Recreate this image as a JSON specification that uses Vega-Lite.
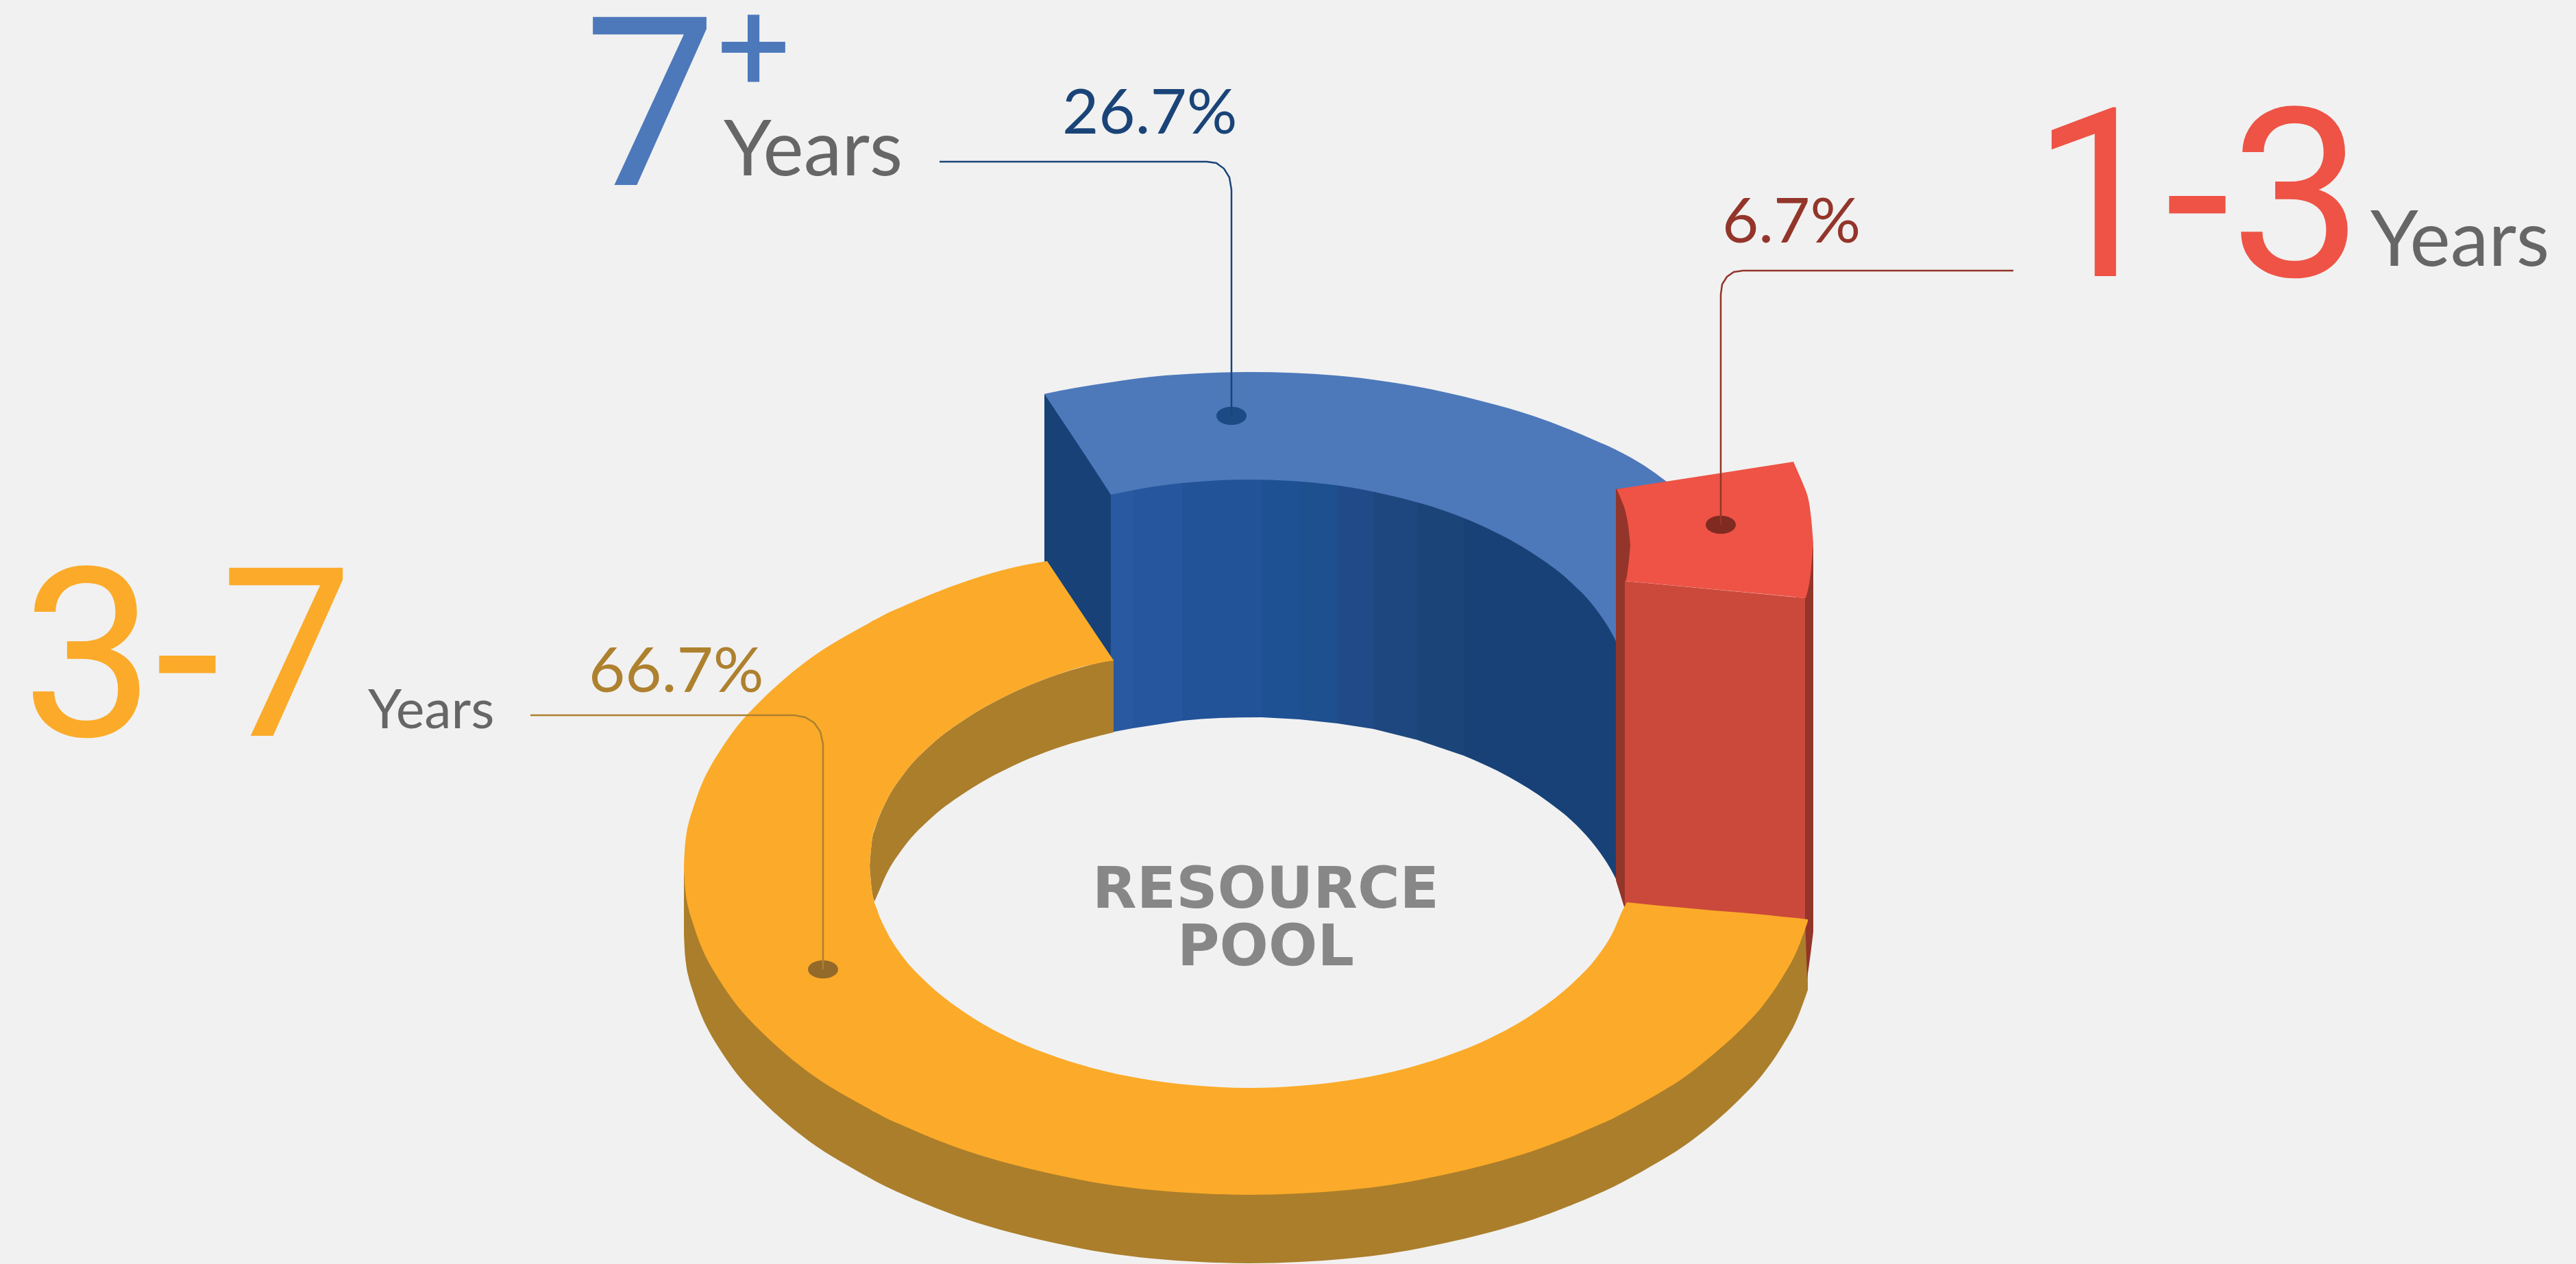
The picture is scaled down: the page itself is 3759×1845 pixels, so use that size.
{"$schema":"https://vega.github.io/schema/vega-lite/v6.json","width":3759,"height":1845,"autosize":{"type":"none"},"padding":0,"background":"#f1f1f1","config":{"view":{"stroke":null}},
"datasets":{
"faces":[
{"part":"a","face":"3-7 outer side","x":998,"y":1259,"y2":1364},{"part":"a","face":"3-7 outer side","x":999,"y":1280,"y2":1385},{"part":"a","face":"3-7 outer side","x":1001,"y":1301,"y2":1406},{"part":"a","face":"3-7 outer side","x":1005,"y":1322,"y2":1427},{"part":"a","face":"3-7 outer side","x":1011,"y":1342,"y2":1447},{"part":"a","face":"3-7 outer side","x":1018,"y":1363,"y2":1468},{"part":"a","face":"3-7 outer side","x":1026,"y":1383,"y2":1488},{"part":"a","face":"3-7 outer side","x":1036,"y":1403,"y2":1508},{"part":"a","face":"3-7 outer side","x":1048,"y":1423,"y2":1528},{"part":"a","face":"3-7 outer side","x":1075,"y":1462,"y2":1567},{"part":"a","face":"3-7 outer side","x":1109,"y":1499,"y2":1604},{"part":"a","face":"3-7 outer side","x":1147,"y":1534,"y2":1639},{"part":"a","face":"3-7 outer side","x":1191,"y":1568,"y2":1673},{"part":"a","face":"3-7 outer side","x":1240,"y":1598,"y2":1703},{"part":"a","face":"3-7 outer side","x":1293,"y":1627,"y2":1732},{"part":"a","face":"3-7 outer side","x":1350,"y":1652,"y2":1757},{"part":"a","face":"3-7 outer side","x":1411,"y":1675,"y2":1780},{"part":"a","face":"3-7 outer side","x":1475,"y":1694,"y2":1799},{"part":"a","face":"3-7 outer side","x":1542,"y":1710,"y2":1815},{"part":"a","face":"3-7 outer side","x":1610,"y":1723,"y2":1828},{"part":"a","face":"3-7 outer side","x":1681,"y":1732,"y2":1837},{"part":"a","face":"3-7 outer side","x":1752,"y":1737,"y2":1842},{"part":"a","face":"3-7 outer side","x":1824,"y":1739,"y2":1844},{"part":"a","face":"3-7 outer side","x":1896,"y":1737,"y2":1842},{"part":"a","face":"3-7 outer side","x":1967,"y":1732,"y2":1837},{"part":"a","face":"3-7 outer side","x":2038,"y":1723,"y2":1828},{"part":"a","face":"3-7 outer side","x":2106,"y":1710,"y2":1815},{"part":"a","face":"3-7 outer side","x":2173,"y":1694,"y2":1799},{"part":"a","face":"3-7 outer side","x":2237,"y":1675,"y2":1780},{"part":"a","face":"3-7 outer side","x":2298,"y":1652,"y2":1757},{"part":"a","face":"3-7 outer side","x":2355,"y":1627,"y2":1732},{"part":"a","face":"3-7 outer side","x":2408,"y":1598,"y2":1703},{"part":"a","face":"3-7 outer side","x":2457,"y":1568,"y2":1673},{"part":"a","face":"3-7 outer side","x":2501,"y":1534,"y2":1639},{"part":"a","face":"3-7 outer side","x":2539,"y":1499,"y2":1604},{"part":"a","face":"3-7 outer side","x":2573,"y":1462,"y2":1567},{"part":"a","face":"3-7 outer side","x":2600,"y":1423,"y2":1528},{"part":"a","face":"3-7 outer side","x":2622,"y":1383,"y2":1488},{"part":"a","face":"3-7 outer side","x":2638,"y":1340,"y2":1445},
{"part":"b","face":"7+ cut side","x":1524,"y":575,"y2":825},{"part":"b","face":"7+ cut side","x":1625,"y":700,"y2":1000},
{"part":"c1","face":"7+ wall 1","x":1621,"y":712,"y2":1069},{"part":"c1","face":"7+ wall 1","x":1653,"y":706,"y2":1063},
{"part":"c2","face":"7+ wall 2","x":1653,"y":706,"y2":1063},{"part":"c2","face":"7+ wall 2","x":1725,"y":695,"y2":1052},
{"part":"c3","face":"7+ wall 3","x":1725,"y":695,"y2":1052},{"part":"c3","face":"7+ wall 3","x":1780,"y":691,"y2":1048},{"part":"c3","face":"7+ wall 3","x":1841,"y":690,"y2":1047},
{"part":"c4","face":"7+ wall 4","x":1841,"y":690,"y2":1047},{"part":"c4","face":"7+ wall 4","x":1896,"y":693,"y2":1050},
{"part":"c5","face":"7+ wall 5","x":1896,"y":693,"y2":1050},{"part":"c5","face":"7+ wall 5","x":1952,"y":699,"y2":1056},
{"part":"c6","face":"7+ wall 6","x":1952,"y":699,"y2":1056},{"part":"c6","face":"7+ wall 6","x":2004,"y":707,"y2":1064},
{"part":"c7","face":"7+ wall 7","x":2004,"y":707,"y2":1064},{"part":"c7","face":"7+ wall 7","x":2068,"y":723,"y2":1080},
{"part":"c8","face":"7+ wall 8","x":2068,"y":723,"y2":1080},{"part":"c8","face":"7+ wall 8","x":2136,"y":746,"y2":1103},
{"part":"c9","face":"7+ wall 9","x":2136,"y":746,"y2":1103},{"part":"c9","face":"7+ wall 9","x":2200,"y":776,"y2":1133},{"part":"c9","face":"7+ wall 9","x":2260,"y":814,"y2":1171},{"part":"c9","face":"7+ wall 9","x":2300,"y":847,"y2":1204},{"part":"c9","face":"7+ wall 9","x":2330,"y":881,"y2":1238},{"part":"c9","face":"7+ wall 9","x":2350,"y":911,"y2":1268},{"part":"c9","face":"7+ wall 9","x":2359,"y":928,"y2":1285},
{"part":"d1","face":"7+ top","x":1524,"y":575,"y2":575},{"part":"d1","face":"7+ top","x":1570,"y":566,"y2":644},{"part":"d1","face":"7+ top","x":1621,"y":558,"y2":722},
{"part":"d2","face":"7+ top","x":1621,"y":558,"y2":722},{"part":"d2","face":"7+ top","x":1700,"y":548,"y2":708},{"part":"d2","face":"7+ top","x":1824,"y":543,"y2":700},{"part":"d2","face":"7+ top","x":1948,"y":548,"y2":708},{"part":"d2","face":"7+ top","x":2023,"y":557,"y2":722},{"part":"d2","face":"7+ top","x":2106,"y":572,"y2":745},{"part":"d2","face":"7+ top","x":2168,"y":587,"y2":770},{"part":"d2","face":"7+ top","x":2237,"y":607,"y2":808},{"part":"d2","face":"7+ top","x":2288,"y":626,"y2":846},{"part":"d2","face":"7+ top","x":2328,"y":643,"y2":888},{"part":"d2","face":"7+ top","x":2355,"y":655,"y2":930},{"part":"d2","face":"7+ top","x":2359,"y":657,"y2":938},
{"part":"d3","face":"7+ top","x":2359,"y":657,"y2":760},{"part":"d3","face":"7+ top","x":2400,"y":680,"y2":760},{"part":"d3","face":"7+ top","x":2432,"y":703,"y2":760},
{"part":"e","face":"1-3 left side","x":2358,"y":714,"y2":1285},{"part":"e","face":"1-3 left side","x":2372,"y":712,"y2":1330},
{"part":"f","face":"1-3 front","x":2371,"y":848,"y2":1320},{"part":"f","face":"1-3 front","x":2634,"y":873,"y2":1342},
{"part":"g","face":"1-3 right side","x":2634,"y":860,"y2":1340},{"part":"g","face":"1-3 right side","x":2637,"y":850,"y2":1428},
{"part":"g2","face":"1-3 right side","x":2637,"y":850,"y2":1428},{"part":"g2","face":"1-3 right side","x":2643,"y":815,"y2":1385},{"part":"g2","face":"1-3 right side","x":2646,"y":793,"y2":1360},
{"part":"h1","face":"1-3 top","x":2359,"y":714,"y2":714},{"part":"h1","face":"1-3 top","x":2372,"y":712,"y2":848},
{"part":"h2","face":"1-3 top","x":2372,"y":712,"y2":848},{"part":"h2","face":"1-3 top","x":2617,"y":674,"y2":871},
{"part":"h3","face":"1-3 top","x":2617,"y":674,"y2":871},{"part":"h3","face":"1-3 top","x":2633,"y":711,"y2":873},{"part":"h3","face":"1-3 top","x":2635,"y":716,"y2":873},
{"part":"h4","face":"1-3 top","x":2635,"y":716,"y2":873},{"part":"h4","face":"1-3 top","x":2643,"y":757,"y2":829},{"part":"h4","face":"1-3 top","x":2646,"y":793,"y2":793},
{"part":"i","face":"1-3 left lobe","x":2359,"y":714,"y2":850},{"part":"i","face":"1-3 left lobe","x":2366,"y":730,"y2":850},{"part":"i","face":"1-3 left lobe","x":2372,"y":747,"y2":848},{"part":"i","face":"1-3 left lobe","x":2376,"y":768,"y2":826},{"part":"i","face":"1-3 left lobe","x":2379,"y":796,"y2":796},
{"part":"j1","face":"3-7 inner wall","x":1269,"y":1264,"y2":1264},{"part":"j1","face":"3-7 inner wall","x":1272,"y":1230,"y2":1298},{"part":"j1","face":"3-7 inner wall","x":1276,"y":1212,"y2":1316},
{"part":"j2","face":"3-7 inner wall","x":1276,"y":1212,"y2":1316},{"part":"j2","face":"3-7 inner wall","x":1280,"y":1200,"y2":1307},{"part":"j2","face":"3-7 inner wall","x":1293,"y":1170,"y2":1277},{"part":"j2","face":"3-7 inner wall","x":1320,"y":1128,"y2":1235},{"part":"j2","face":"3-7 inner wall","x":1360,"y":1086,"y2":1193},{"part":"j2","face":"3-7 inner wall","x":1411,"y":1048,"y2":1155},{"part":"j2","face":"3-7 inner wall","x":1480,"y":1010,"y2":1117},{"part":"j2","face":"3-7 inner wall","x":1542,"y":985,"y2":1092},{"part":"j2","face":"3-7 inner wall","x":1625,"y":962,"y2":1069},
{"part":"k","face":"3-7 top","x":998,"y":1264,"y2":1264},{"part":"k","face":"3-7 top","x":999,"y":1243,"y2":1285},{"part":"k","face":"3-7 top","x":1001,"y":1222,"y2":1306},{"part":"k","face":"3-7 top","x":1005,"y":1201,"y2":1327},{"part":"k","face":"3-7 top","x":1011,"y":1181,"y2":1347},{"part":"k","face":"3-7 top","x":1018,"y":1160,"y2":1368},{"part":"k","face":"3-7 top","x":1026,"y":1140,"y2":1388},{"part":"k","face":"3-7 top","x":1036,"y":1120,"y2":1408},{"part":"k","face":"3-7 top","x":1048,"y":1100,"y2":1428},{"part":"k","face":"3-7 top","x":1075,"y":1061,"y2":1467},{"part":"k","face":"3-7 top","x":1109,"y":1024,"y2":1504},{"part":"k","face":"3-7 top","x":1147,"y":989,"y2":1539},{"part":"k","face":"3-7 top","x":1191,"y":955,"y2":1573},{"part":"k","face":"3-7 top","x":1240,"y":925,"y2":1603},{"part":"k","face":"3-7 top","x":1269,"y":909,"y2":1619},
{"part":"l1","face":"3-7 top","x":1269,"y":909,"y2":1264},{"part":"l1","face":"3-7 top","x":1272,"y":907,"y2":1230},{"part":"l1","face":"3-7 top","x":1280,"y":903,"y2":1200},{"part":"l1","face":"3-7 top","x":1293,"y":896,"y2":1170},{"part":"l1","face":"3-7 top","x":1320,"y":884,"y2":1128},{"part":"l1","face":"3-7 top","x":1360,"y":867,"y2":1086},{"part":"l1","face":"3-7 top","x":1411,"y":848,"y2":1048},{"part":"l1","face":"3-7 top","x":1480,"y":828,"y2":1010},{"part":"l1","face":"3-7 top","x":1528,"y":819,"y2":990},
{"part":"l2","face":"3-7 top","x":1528,"y":819,"y2":990},{"part":"l2","face":"3-7 top","x":1576,"y":891,"y2":974},{"part":"l2","face":"3-7 top","x":1625,"y":964,"y2":964},
{"part":"m1","face":"3-7 top","x":1269,"y":1264,"y2":1619},{"part":"m1","face":"3-7 top","x":1272,"y":1298,"y2":1621},{"part":"m1","face":"3-7 top","x":1280,"y":1328,"y2":1625},{"part":"m1","face":"3-7 top","x":1293,"y":1358,"y2":1632},{"part":"m1","face":"3-7 top","x":1320,"y":1400,"y2":1644},{"part":"m1","face":"3-7 top","x":1350,"y":1432,"y2":1657},{"part":"m1","face":"3-7 top","x":1411,"y":1480,"y2":1680},{"part":"m1","face":"3-7 top","x":1475,"y":1516,"y2":1699},{"part":"m1","face":"3-7 top","x":1542,"y":1543,"y2":1715},{"part":"m1","face":"3-7 top","x":1610,"y":1563,"y2":1728},{"part":"m1","face":"3-7 top","x":1681,"y":1577,"y2":1737},{"part":"m1","face":"3-7 top","x":1752,"y":1585,"y2":1742},{"part":"m1","face":"3-7 top","x":1824,"y":1588,"y2":1744},{"part":"m1","face":"3-7 top","x":1896,"y":1585,"y2":1742},{"part":"m1","face":"3-7 top","x":1967,"y":1577,"y2":1737},{"part":"m1","face":"3-7 top","x":2038,"y":1563,"y2":1728},{"part":"m1","face":"3-7 top","x":2106,"y":1543,"y2":1715},{"part":"m1","face":"3-7 top","x":2173,"y":1516,"y2":1699},{"part":"m1","face":"3-7 top","x":2237,"y":1480,"y2":1680},{"part":"m1","face":"3-7 top","x":2298,"y":1432,"y2":1657},{"part":"m1","face":"3-7 top","x":2328,"y":1400,"y2":1644},{"part":"m1","face":"3-7 top","x":2355,"y":1358,"y2":1632},{"part":"m1","face":"3-7 top","x":2368,"y":1328,"y2":1625},{"part":"m1","face":"3-7 top","x":2374,"y":1317,"y2":1622},
{"part":"m2","face":"3-7 top","x":2374,"y":1317,"y2":1622},{"part":"m2","face":"3-7 top","x":2422,"y":1322,"y2":1595},{"part":"m2","face":"3-7 top","x":2457,"y":1325,"y2":1573},{"part":"m2","face":"3-7 top","x":2500,"y":1329,"y2":1539},{"part":"m2","face":"3-7 top","x":2539,"y":1332,"y2":1504},{"part":"m2","face":"3-7 top","x":2573,"y":1335,"y2":1467},{"part":"m2","face":"3-7 top","x":2600,"y":1338,"y2":1428},{"part":"m2","face":"3-7 top","x":2622,"y":1340,"y2":1388},{"part":"m2","face":"3-7 top","x":2638,"y":1342,"y2":1345}
],
"leaders":[
{"segment":"7+","step":1,"x":1371,"y":236},{"segment":"7+","step":2,"x":1761,"y":236},{"segment":"7+","step":3,"x":1775,"y":238},{"segment":"7+","step":4,"x":1786,"y":246},{"segment":"7+","step":5,"x":1794,"y":259},{"segment":"7+","step":6,"x":1797,"y":277},{"segment":"7+","step":7,"x":1797,"y":607},
{"segment":"1-3","step":1,"x":2938,"y":395},{"segment":"1-3","step":2,"x":2543,"y":395},{"segment":"1-3","step":3,"x":2530,"y":397},{"segment":"1-3","step":4,"x":2520,"y":404},{"segment":"1-3","step":5,"x":2513,"y":415},{"segment":"1-3","step":6,"x":2511,"y":430},{"segment":"1-3","step":7,"x":2511,"y":766},
{"segment":"3-7","step":1,"x":774,"y":1044},{"segment":"3-7","step":2,"x":1159,"y":1044},{"segment":"3-7","step":3,"x":1175,"y":1047},{"segment":"3-7","step":4,"x":1188,"y":1055},{"segment":"3-7","step":5,"x":1197,"y":1068},{"segment":"3-7","step":6,"x":1201,"y":1086},{"segment":"3-7","step":7,"x":1201,"y":1415}
],
"dots":[{"segment":"7+","share":26.7,"x":1797,"y":607},{"segment":"1-3","share":6.7,"x":2511,"y":766},{"segment":"3-7","share":66.7,"x":1201,"y":1415}],
"big":[{"text":"7","x":852,"y":270},{"text":"1-3","x":2965,"y":403},{"text":"3-7","x":32,"y":1074}],
"plus":[{"text":"+","x":1046,"y":133}],
"yearsLarge":[{"text":"Years","x":1056,"y":256},{"text":"Years","x":3459,"y":388}],
"yearsSmall":[{"text":"Years","x":537,"y":1063}],
"shares":[{"segment":"7+","text":"26.7%","x":1550,"y":195},{"segment":"1-3","text":"6.7%","x":2513,"y":354},{"segment":"3-7","text":"66.7%","x":859,"y":1010}],
"centre":[{"text":"RESOURCE","x":1847,"y":1325},{"text":"POOL","x":1847,"y":1409}]
},
"resolve":{"scale":{"color":"independent"}},
"encoding":{},
"layer":[
{"data":{"name":"faces"},"mark":{"type":"area","opacity":1,"interpolate":"monotone"},"encoding":{
"x":{"field":"x","type":"quantitative","axis":null,"scale":{"domain":[0,3759],"nice":false,"zero":false}},
"y":{"field":"y","type":"quantitative","axis":null,"stack":null,"scale":{"domain":[1845,0],"nice":false,"zero":false}},
"y2":{"field":"y2"},
"detail":{"field":"part"},
"color":{"field":"face","type":"nominal","legend":null,"scale":{
"domain":["3-7 outer side","7+ cut side","7+ wall 1","7+ wall 2","7+ wall 3","7+ wall 4","7+ wall 5","7+ wall 6","7+ wall 7","7+ wall 8","7+ wall 9","7+ top","1-3 left side","1-3 front","1-3 right side","1-3 top","1-3 left lobe","3-7 inner wall","3-7 top"],
"range":["#ab7e2c","#184277","#295aa1","#26569d","#225398","#1e5193","#1e4f8e","#214a88","#1f477f","#1b4479","#184277","#4d79bb","#93352a","#cb493b","#93352a","#ee5345","#93352a","#ab7e2c","#fbab29"]}}}},
{"data":{"name":"dots"},"mark":{"type":"point","filled":true,"opacity":1,"size":1936,"shape":"M-1,0 a1,0.6 0 1,0 2,0 a1,0.6 0 1,0 -2,0 Z"},"encoding":{
"x":{"field":"x","type":"quantitative"},"y":{"field":"y","type":"quantitative"},
"color":{"field":"segment","type":"nominal","legend":null,"scale":{"domain":["7+","1-3","3-7"],"range":["#1b4a84","#7f2b21","#936a2a"]}}}},
{"data":{"name":"leaders"},"mark":{"type":"line","strokeWidth":2.5},"encoding":{
"x":{"field":"x","type":"quantitative"},"y":{"field":"y","type":"quantitative"},"order":{"field":"step","type":"quantitative"},
"color":{"field":"segment","type":"nominal","legend":null,"scale":{"domain":["7+","1-3","3-7"],"range":["#1a4478","#93352a","#ae812f"]}}}},
{"data":{"name":"big"},"transform":[{"filter":"datum.text=='3-7'"}],"mark":{"type":"text","font":"Roboto","fontSize":345,"fontWeight":400,"align":"left","baseline":"alphabetic","color":"#fbab29"},"encoding":{"x":{"field":"x","type":"quantitative"},"y":{"field":"y","type":"quantitative"},"text":{"field":"text"}}},
{"data":{"name":"big"},"transform":[{"filter":"datum.text=='1-3'"}],"mark":{"type":"text","font":"Roboto","fontSize":345,"fontWeight":400,"align":"left","baseline":"alphabetic","color":"#ee5345"},"encoding":{"x":{"field":"x","type":"quantitative"},"y":{"field":"y","type":"quantitative"},"text":{"field":"text"}}},
{"data":{"name":"big"},"transform":[{"filter":"datum.text=='7'"}],"mark":{"type":"text","font":"Roboto","fontSize":345,"fontWeight":400,"align":"left","baseline":"alphabetic","color":"#4d79bb"},"encoding":{"x":{"field":"x","type":"quantitative"},"y":{"field":"y","type":"quantitative"},"text":{"field":"text"}}},
{"data":{"name":"plus"},"mark":{"type":"text","font":"Roboto","fontSize":190,"fontWeight":400,"align":"left","baseline":"alphabetic","color":"#4d79bb"},"encoding":{"x":{"field":"x","type":"quantitative"},"y":{"field":"y","type":"quantitative"},"text":{"field":"text"}}},
{"data":{"name":"yearsLarge"},"mark":{"type":"text","font":"Lato","fontSize":112,"fontWeight":400,"align":"left","baseline":"alphabetic","color":"#666666"},"encoding":{"x":{"field":"x","type":"quantitative"},"y":{"field":"y","type":"quantitative"},"text":{"field":"text"}}},
{"data":{"name":"yearsSmall"},"mark":{"type":"text","font":"Lato","fontSize":79,"fontWeight":400,"align":"left","baseline":"alphabetic","color":"#666666"},"encoding":{"x":{"field":"x","type":"quantitative"},"y":{"field":"y","type":"quantitative"},"text":{"field":"text"}}},
{"data":{"name":"shares"},"mark":{"type":"text","font":"Lato","fontSize":92,"fontWeight":400,"align":"left","baseline":"alphabetic"},"encoding":{"x":{"field":"x","type":"quantitative"},"y":{"field":"y","type":"quantitative"},"text":{"field":"text"},"color":{"field":"segment","type":"nominal","legend":null,"scale":{"domain":["7+","1-3","3-7"],"range":["#1a4478","#93352a","#ae812f"]}}}},
{"data":{"name":"centre"},"mark":{"type":"text","font":"DejaVu Sans","fontSize":84,"fontWeight":700,"align":"center","baseline":"alphabetic","color":"#878787"},"encoding":{"x":{"field":"x","type":"quantitative"},"y":{"field":"y","type":"quantitative"},"text":{"field":"text"}}}
]}
